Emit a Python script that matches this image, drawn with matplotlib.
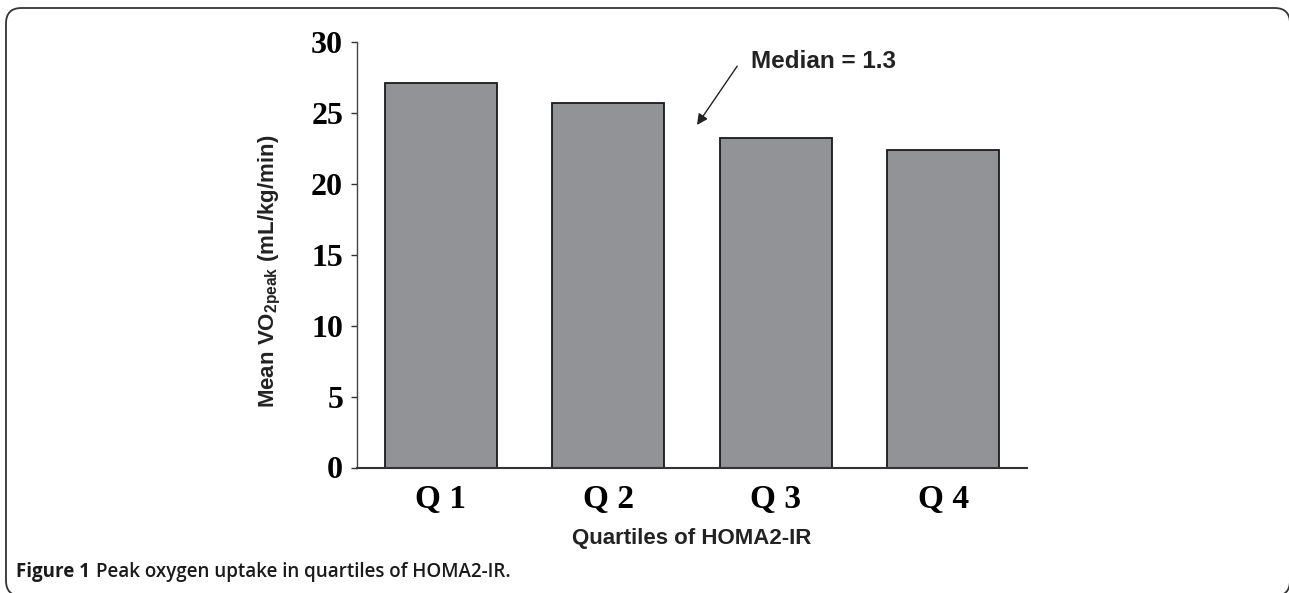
import matplotlib
matplotlib.use("Agg")
import matplotlib.pyplot as plt
from matplotlib.patches import FancyBboxPatch
import numpy as np

categories = ["Q 1", "Q 2", "Q 3", "Q 4"]
values = [27.1, 25.7, 23.2, 22.4]
yticks = [0, 5, 10, 15, 20, 25, 30]

plt.rcParams['mathtext.fontset'] = 'custom'
plt.rcParams['mathtext.bf'] = 'Liberation Sans:bold'
plt.rcParams['mathtext.rm'] = 'Liberation Sans:bold'

W, H = 1289, 593
fig = plt.figure(figsize=(W / 100, H / 100), dpi=100)
ax = fig.add_axes([357 / W, 1 - 467.5 / H, (1027 - 357) / W, (467.5 - 42) / H])

x = np.arange(len(categories)) + 0.5
ax.bar(x, values, width=0.67, color="#929396", edgecolor="#1a1a1a", linewidth=1.3)
ax.set_xlim(0, 4)
ax.set_ylim(0, 30)
ax.set_yticks(yticks)
ax.set_yticklabels([str(t) for t in yticks], fontfamily="Liberation Serif",
                   fontweight="bold", fontsize=23)
ax.set_xticks(x)
ax.set_xticklabels(categories, fontfamily="Liberation Serif", fontweight="bold", fontsize=24)
ax.tick_params(axis="y", length=4, width=1, pad=6, color="#333333")
ax.tick_params(axis="x", length=0, pad=12)
for s in ["top", "right"]:
    ax.spines[s].set_visible(False)
ax.spines["left"].set_color("#444444")
ax.spines["bottom"].set_color("#333333")
ax.spines["left"].set_linewidth(1)
ax.spines["bottom"].set_linewidth(1.5)

ax.set_ylabel(r"Mean VO$_\mathbf{2peak}$ (mL/kg/min)", fontfamily="Liberation Sans",
              fontweight="bold", fontsize=16, color="#222222")
ax.yaxis.set_label_coords(-0.11, 0.46)
ax.set_xlabel("Quartiles of HOMA2-IR", fontfamily="Liberation Sans", fontweight="bold",
              fontsize=16, color="#222222", labelpad=9)

ax.annotate("", xy=(2.03, 24.15), xytext=(2.27, 28.3),
            arrowprops=dict(arrowstyle="-|>", color="#222222", lw=1.0,
                            mutation_scale=16, shrinkA=0, shrinkB=0))
ax.text(2.35, 28.6, "Median = 1.3", fontfamily="Liberation Sans", fontweight="bold",
        fontsize=17.5, color="#222222", va="center", ha="left")

# frame (right and bottom edges fall just outside the image)
frame = FancyBboxPatch((6 / W, -3 / H), (1290 - 6) / W, (585 + 3) / H,
                       boxstyle="round,pad=0,rounding_size=0.012",
                       transform=fig.transFigure, fill=False,
                       edgecolor="#333333", linewidth=1.3, mutation_aspect=W / H)
fig.patches.append(frame)

fig.text(16 / W, 1 - 572 / H, "Figure 1", fontfamily="Open Sans", fontweight="bold",
         fontsize=13.5, color="#1a1a1a", va="center", ha="left")
fig.text(96 / W, 1 - 572 / H, "Peak oxygen uptake in quartiles of HOMA2-IR.",
         fontfamily="Open Sans", fontweight="semibold", fontsize=13.5, color="#1a1a1a",
         va="center", ha="left")

fig.savefig("out.png", dpi=100)
